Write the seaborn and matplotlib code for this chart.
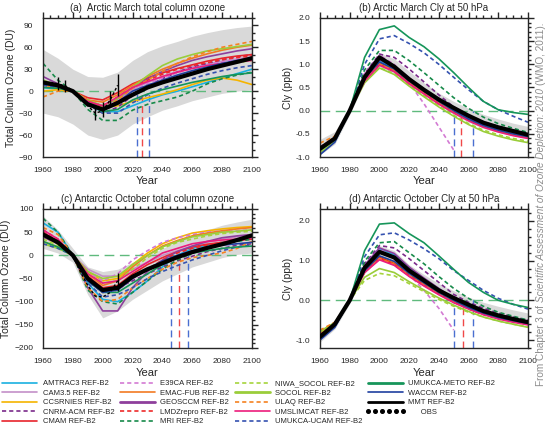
import numpy as np
import pandas as pd
import matplotlib
matplotlib.use('Agg')
import matplotlib.pyplot as plt
import seaborn as sns
from matplotlib.lines import Line2D
from matplotlib.ticker import MultipleLocator, FormatStrFormatter

nan = np.nan

# --- data ---
years = [1960, 1970, 1980, 1990, 2000, 2010, 2020, 2030, 2040, 2050, 2060, 2070, 2080, 2090, 2100]

models = ['AMTRAC3', 'CAM3.5', 'CCSRNIES', 'CNRM-ACM', 'CMAM',
          'E39CA', 'EMAC-FUB', 'GEOSCCM', 'LMDZrepro', 'MRI',
          'NIWA_SOCOL', 'SOCOL', 'ULAQ', 'UMSLIMCAT', 'UMUKCA-UCAM',
          'UMUKCA-METO', 'WACCM']

colors = {'AMTRAC3': '#1ab0e0', 'CAM3.5': '#c490c8', 'CCSRNIES': '#f5b400',
          'CNRM-ACM': '#7a2a8a', 'CMAM': '#e8242c', 'E39CA': '#d37ad3',
          'EMAC-FUB': '#f27a22', 'GEOSCCM': '#8e3f9c', 'LMDZrepro': '#ee2a2a',
          'MRI': '#178a4a', 'NIWA_SOCOL': '#a6d43c', 'SOCOL': '#9acd3a',
          'ULAQ': '#f58220', 'UMSLIMCAT': '#ec1c7c', 'UMUKCA-UCAM': '#3552b0',
          'UMUKCA-METO': '#16955a', 'WACCM': '#1f3fa0'}

dashed = ['CNRM-ACM', 'E39CA', 'LMDZrepro', 'MRI', 'NIWA_SOCOL', 'ULAQ', 'UMUKCA-UCAM']

# (a) Arctic March total column ozone (DU)
arctic_o3 = {
    'AMTRAC3':     [5, 3, 0, -18, -28, -28, -20, -12, -5, 0, 6, 12, 18, 24, 30],
    'CAM3.5':      [15, 8, 0, -14, -20, -12, 2, 12, 20, 27, 33, 37, 41, 44, 47],
    'CCSRNIES':    [0, 2, 0, -14, -22, -20, -14, -9, -4, 2, 9, 15, 18, 15, 9],
    'CNRM-ACM':    [10, 7, 0, -18, -30, -22, -6, 7, 17, 26, 33, 38, 43, 47, 50],
    'CMAM':        [12, 7, 0, -9, -12, -2, 10, 18, 25, 31, 36, 41, 45, 48, 50],
    'E39CA':       [12, 8, 0, -16, -22, -14, 0, 10, 18, 25, 31, 36, 40, 43, 45],
    'EMAC-FUB':    [8, 5, 0, -12, -15, -5, 8, 20, 30, 38, 45, 51, 56, 60, 63],
    'GEOSCCM':     [20, 10, 0, -15, -20, -10, 5, 17, 27, 35, 42, 47, 51, 55, 58],
    'LMDZrepro':   [10, 6, 0, -14, -20, -8, 5, 15, 23, 30, 35, 39, 43, 46, 48],
    'MRI':         [38, 15, 0, -25, -40, -40, -26, -18, -13, -8, 0, 10, 17, 22, 26],
    'NIWA_SOCOL':  [10, 6, 0, -16, -25, -18, -5, 4, 12, 19, 25, 30, 35, 39, 42],
    'SOCOL':       [15, 8, 0, -12, -20, -10, 5, 21, 35, 44, 50, 55, 58, 61, 64],
    'ULAQ':        [-8, 0, 0, -12, -25, -12, 4, 15, 27, 38, 47, 54, 60, 64, 68],
    'UMSLIMCAT':   [12, 7, 0, -14, -20, -8, 5, 13, 20, 26, 31, 35, 38, 40, 42],
    'UMUKCA-UCAM': [8, 5, 0, -18, -30, -30, -16, -5, 4, 11, 17, 23, 28, 32, 35],
    'UMUKCA-METO': [5, 4, 0, -18, -28, -25, -12, -4, 2, 7, 12, 16, 20, 23, 25],
    'WACCM':       [10, 6, 0, -16, -25, -15, 0, 8, 15, 22, 28, 33, 38, 42, 45],
}
arctic_o3_mmt = [12, 8, 0, -18, -25, -16, -5, 5, 12, 18, 24, 30, 35, 40, 45]
arctic_o3_lo = [-30, -35, -45, -60, -66, -60, -45, -35, -26, -20, -13, -8, -3, 0, 2]
arctic_o3_hi = [57, 45, 30, 20, 19, 26, 42, 54, 62, 68, 75, 80, 84, 87, 89]
arctic_obs_years = [1965, 1970, 1975, 1980, 1985, 1990, 1995, 2000, 2005, 2010]
arctic_obs = [12, 10, 7, 0, -8, -20, -30, -27, -12, 8]
arctic_err_years = [1970, 1975, 1995, 2000, 2005, 2010]
arctic_err_vals = [10, 7, -30, -25, -10, 8]
arctic_err_size = [9, 8, 10, 10, 10, 15]
arctic_o3_ret = [2023, 2026, 2031]

# (b) Arctic March Cly at 50 hPa (ppb)
arctic_cly = {
    'AMTRAC3':     [-0.90, -0.65, 0.0, 0.70, 1.08, 0.92, 0.66, 0.43, 0.20, 0.00, -0.18, -0.32, -0.42, -0.50, -0.57],
    'CAM3.5':      [-0.85, -0.62, 0.0, 0.65, 1.00, 0.85, 0.60, 0.38, 0.15, -0.03, -0.20, -0.34, -0.44, -0.52, -0.58],
    'CCSRNIES':    [-0.80, -0.60, 0.0, 0.66, 1.00, 0.86, 0.60, 0.38, 0.16, -0.02, -0.18, -0.32, -0.42, -0.50, -0.56],
    'CNRM-ACM':    [-0.85, -0.62, 0.0, 0.80, 1.22, 1.15, 0.90, 0.62, 0.34, 0.08, -0.10, -0.24, -0.34, -0.42, -0.50],
    'CMAM':        [-0.82, -0.60, 0.0, 0.68, 1.02, 0.88, 0.62, 0.40, 0.18, -0.02, -0.20, -0.33, -0.43, -0.51, -0.57],
    'E39CA':       [-0.78, -0.58, 0.0, 0.80, 1.20, 1.00, 0.60, 0.15, -0.35, -0.85, nan, nan, nan, nan, nan],
    'EMAC-FUB':    [-0.80, -0.58, 0.0, 0.68, 1.02, 0.88, 0.62, 0.40, 0.18, -0.02, -0.20, -0.34, -0.44, -0.52, -0.58],
    'GEOSCCM':     [-0.85, -0.62, 0.0, 0.72, 1.10, 0.96, 0.70, 0.46, 0.23, 0.03, -0.15, -0.30, -0.40, -0.48, -0.54],
    'LMDZrepro':   [-0.80, -0.58, 0.0, 0.66, 1.00, 0.85, 0.60, 0.38, 0.16, -0.04, -0.20, -0.33, -0.43, -0.50, -0.56],
    'MRI':         [-0.88, -0.64, 0.0, 0.88, 1.30, 1.30, 1.08, 0.82, 0.55, 0.28, 0.05, -0.14, -0.28, -0.38, -0.47],
    'NIWA_SOCOL':  [-0.90, -0.66, 0.0, 0.62, 0.93, 0.80, 0.55, 0.32, 0.10, -0.10, -0.28, -0.42, -0.52, -0.60, -0.66],
    'SOCOL':       [-0.90, -0.66, 0.0, 0.60, 0.92, 0.78, 0.53, 0.30, 0.08, -0.12, -0.30, -0.45, -0.55, -0.63, -0.69],
    'ULAQ':        [-0.70, -0.55, 0.0, 0.68, 1.02, 0.88, 0.62, 0.40, 0.18, -0.02, -0.20, -0.33, -0.43, -0.50, -0.55],
    'UMSLIMCAT':   [-0.82, -0.60, 0.0, 0.64, 0.98, 0.84, 0.58, 0.36, 0.14, -0.05, -0.22, -0.36, -0.46, -0.54, -0.60],
    'UMUKCA-UCAM': [-0.85, -0.62, 0.0, 1.00, 1.55, 1.62, 1.45, 1.25, 1.00, 0.72, 0.45, 0.20, 0.02, -0.12, -0.25],
    'UMUKCA-METO': [-0.85, -0.62, 0.0, 1.15, 1.75, 1.83, 1.58, 1.38, 1.12, 0.82, 0.50, 0.20, 0.02, -0.04, -0.08],
    'WACCM':       [-0.95, -0.68, 0.0, 0.70, 1.05, 0.90, 0.64, 0.42, 0.20, 0.00, -0.18, -0.32, -0.42, -0.50, -0.56],
}
arctic_cly_mmt = [-0.82, -0.60, 0.0, 0.72, 1.15, 0.95, 0.68, 0.45, 0.24, 0.06, -0.11, -0.26, -0.36, -0.44, -0.52]
arctic_cly_lo = [-0.95, -0.72, -0.08, 0.60, 0.95, 0.80, 0.55, 0.33, 0.12, -0.08, -0.25, -0.38, -0.47, -0.54, -0.60]
arctic_cly_hi = [-0.62, -0.45, 0.08, 0.85, 1.25, 1.12, 0.85, 0.60, 0.38, 0.20, 0.05, -0.08, -0.18, -0.27, -0.34]
arctic_cly_ret = [2050, 2055, 2063]

# (c) Antarctic October total column ozone (DU)
antarctic_o3 = {
    'AMTRAC3':     [70, 50, 0, -60, -95, -100, -80, -55, -25, 0, 15, 22, 28, 33, 38],
    'CAM3.5':      [45, 28, 0, -30, -45, -45, -30, -15, 0, 10, 20, 28, 35, 40, 42],
    'CCSRNIES':    [30, 18, 0, -35, -55, -50, -20, 5, 25, 38, 48, 53, 57, 60, 62],
    'CNRM-ACM':    [50, 30, 0, -50, -75, -70, -55, -40, -25, -12, -2, 8, 15, 22, 25],
    'CMAM':        [50, 30, 0, -45, -70, -65, -40, -20, -5, 8, 18, 24, 28, 32, 35],
    'E39CA':       [45, 28, 0, -35, -55, -40, -10, 10, 28, 38, 45, 50, 52, 53, 55],
    'EMAC-FUB':    [40, 25, 0, -40, -65, -55, -25, 0, 20, 32, 42, 48, 53, 57, 60],
    'GEOSCCM':     [40, 25, 0, -70, -120, -120, -70, -35, -10, 8, 20, 30, 38, 42, 45],
    'LMDZrepro':   [55, 35, 0, -55, -80, -75, -50, -30, -10, 5, 15, 22, 28, 33, 38],
    'MRI':         [80, 50, 0, -75, -100, -105, -80, -55, -30, -10, 5, 15, 25, 30, 35],
    'NIWA_SOCOL':  [35, 22, 0, -40, -60, -55, -30, -5, 15, 28, 35, 42, 47, 50, 52],
    'SOCOL':       [25, 15, 0, -35, -50, -45, -20, 0, 18, 30, 40, 45, 50, 52, 55],
    'ULAQ':        [60, 45, 0, -70, -100, -95, -70, -50, -30, -15, -5, 0, 5, 15, 30],
    'UMSLIMCAT':   [55, 35, 0, -40, -60, -55, -35, -15, 5, 15, 25, 30, 33, 35, 38],
    'UMUKCA-UCAM': [25, 15, 0, -60, -90, -85, -70, -50, -35, -22, -10, 0, 10, 18, 22],
    'UMUKCA-METO': [30, 18, 0, -55, -80, -80, -60, -40, -20, -5, 5, 10, 15, 18, 20],
    'WACCM':       [45, 28, 0, -55, -80, -75, -50, -30, -12, 0, 10, 18, 22, 25, 28],
}
antarctic_o3_mmt = [45, 28, 0, -50, -75, -70, -46, -30, -17, -4, 7, 16, 24, 33, 43]
antarctic_o3_lo = [15, 5, -15, -85, -135, -120, -95, -75, -55, -40, -25, -15, -5, 2, 5]
antarctic_o3_hi = [85, 55, 15, -25, -35, -30, -15, 0, 15, 30, 45, 55, 65, 72, 78]
antarctic_obs_years = [1965, 1970, 1975, 1980, 1985, 1990, 1995, 2000, 2005, 2010]
antarctic_obs = [35, 25, 12, 0, -35, -65, -88, -90, -80, -55]
antarctic_err_years = [2010]
antarctic_err_vals = [-58]
antarctic_err_size = [20]
antarctic_o3_ret = [2046, 2051, 2057]

# (d) Antarctic October Cly at 50 hPa (ppb)
antarctic_cly = {
    'AMTRAC3':     [-0.85, -0.60, 0.0, 0.85, 1.30, 1.15, 0.80, 0.52, 0.25, 0.02, -0.15, -0.30, -0.40, -0.48, -0.55],
    'CAM3.5':      [-0.90, -0.62, 0.0, 0.75, 1.10, 0.95, 0.65, 0.40, 0.18, -0.02, -0.18, -0.32, -0.43, -0.52, -0.58],
    'CCSRNIES':    [-0.80, -0.58, 0.0, 0.75, 1.10, 0.95, 0.66, 0.42, 0.20, 0.00, -0.17, -0.30, -0.42, -0.50, -0.57],
    'CNRM-ACM':    [-0.92, -0.64, 0.0, 0.92, 1.38, 1.32, 1.05, 0.75, 0.45, 0.15, -0.05, -0.20, -0.32, -0.42, -0.50],
    'CMAM':        [-0.88, -0.60, 0.0, 0.72, 1.08, 0.92, 0.64, 0.40, 0.18, -0.02, -0.20, -0.34, -0.45, -0.53, -0.60],
    'E39CA':       [-0.80, -0.58, 0.0, 0.88, 1.30, 1.05, 0.65, 0.25, -0.20, -0.75, nan, nan, nan, nan, nan],
    'EMAC-FUB':    [-0.82, -0.60, 0.0, 0.72, 1.05, 0.90, 0.62, 0.38, 0.16, -0.04, -0.20, -0.34, -0.45, -0.53, -0.60],
    'GEOSCCM':     [-0.95, -0.65, 0.0, 0.88, 1.32, 1.18, 0.84, 0.56, 0.30, 0.05, -0.12, -0.26, -0.38, -0.46, -0.53],
    'LMDZrepro':   [-0.85, -0.60, 0.0, 0.72, 1.05, 0.90, 0.62, 0.38, 0.16, -0.04, -0.22, -0.36, -0.46, -0.54, -0.60],
    'MRI':         [-0.95, -0.66, 0.0, 0.98, 1.45, 1.48, 1.20, 0.92, 0.60, 0.30, 0.05, -0.15, -0.30, -0.40, -0.50],
    'NIWA_SOCOL':  [-0.80, -0.58, 0.0, 0.50, 0.68, 0.62, 0.42, 0.22, 0.02, -0.15, -0.30, -0.42, -0.52, -0.60, -0.67],
    'SOCOL':       [-0.78, -0.56, 0.0, 0.58, 0.80, 0.70, 0.47, 0.26, 0.06, -0.12, -0.28, -0.42, -0.52, -0.60, -0.68],
    'ULAQ':        [-0.75, -0.55, 0.0, 0.70, 1.05, 0.90, 0.62, 0.38, 0.16, -0.04, -0.20, -0.33, -0.44, -0.52, -0.58],
    'UMSLIMCAT':   [-0.90, -0.62, 0.0, 0.70, 1.02, 0.88, 0.60, 0.36, 0.14, -0.06, -0.22, -0.36, -0.47, -0.55, -0.62],
    'UMUKCA-UCAM': [-0.92, -0.64, 0.0, 1.10, 1.65, 1.70, 1.52, 1.30, 1.05, 0.75, 0.50, 0.25, 0.05, -0.10, -0.22],
    'UMUKCA-METO': [-0.92, -0.64, 0.0, 1.25, 1.92, 1.95, 1.68, 1.45, 1.12, 0.78, 0.45, 0.20, 0.00, -0.10, -0.18],
    'WACCM':       [-1.00, -0.68, 0.0, 0.75, 1.12, 0.98, 0.68, 0.44, 0.20, 0.00, -0.18, -0.32, -0.43, -0.51, -0.58],
}
antarctic_cly_mmt = [-0.92, -0.60, 0.0, 0.82, 1.22, 1.08, 0.75, 0.50, 0.25, 0.06, -0.11, -0.27, -0.38, -0.47, -0.55]
antarctic_cly_lo = [-1.05, -0.72, -0.08, 0.68, 1.05, 0.92, 0.62, 0.38, 0.15, -0.05, -0.22, -0.36, -0.46, -0.55, -0.62]
antarctic_cly_hi = [-0.75, -0.50, 0.08, 0.95, 1.38, 1.25, 0.90, 0.65, 0.42, 0.24, 0.08, -0.05, -0.15, -0.24, -0.32]
antarctic_cly_ret = [2050, 2056, 2063]

# --- style ---
sns.set_style('white')
plt.rcParams['font.family'] = ['Liberation Sans', 'DejaVu Sans']
plt.rcParams['axes.linewidth'] = 1.0

dash_map = {m: ((2.5, 1.8) if m in dashed else '') for m in models}


def draw_panel(ax, data, mmt, lo, hi, ret, ylim, ymajor, yminor, title, ylabel,
               obs=None):
    ax.fill_between(years, lo, hi, color='#d9d9d9', lw=0, zorder=0)
    ax.axhline(0, color='#5fba7d', lw=1.0, dashes=(7, 4), zorder=1)
    for x, c in zip(ret, ['#4a6fd0', '#f04848', '#4a6fd0']):
        ax.vlines(x, ylim[0], 0, colors=c, lw=1.0, linestyles=(0, (5, 3)), zorder=1)

    rows = [(m, y, v) for m in models for y, v in zip(years, data[m])]
    df = pd.DataFrame(rows, columns=['model', 'year', 'value']).dropna()
    sns.lineplot(data=df, x='year', y='value', hue='model', style='model',
                 hue_order=models, style_order=models, palette=colors,
                 dashes=dash_map, lw=1.2, legend=False, ax=ax, zorder=2)
    sns.lineplot(x=years, y=mmt, color='black', lw=3.0, ax=ax, zorder=3)

    if obs is not None:
        oy, ov, ey, ev, es = obs
        ax.plot(oy, ov, color='black', lw=1.0, ls=(0, (2, 1.5)), zorder=4)
        ax.errorbar(ey, ev, yerr=es, fmt='none', ecolor='black', elinewidth=1.0,
                    capsize=0, zorder=4)

    ax.set_xlim(1960, 2100)
    ax.set_ylim(*ylim)
    ax.xaxis.set_major_locator(MultipleLocator(20))
    ax.xaxis.set_minor_locator(MultipleLocator(5))
    ax.yaxis.set_major_locator(MultipleLocator(ymajor))
    ax.yaxis.set_minor_locator(MultipleLocator(yminor))
    ax.tick_params(which='both', direction='out', top=True, right=True,
                   labelsize=6, width=1.0, pad=3)
    ax.tick_params(which='major', length=4)
    ax.tick_params(which='minor', length=2)
    ax.set_title(title, fontsize=7, pad=5)
    ax.set_xlabel('Year', fontsize=8, labelpad=2)
    ax.set_ylabel(ylabel, fontsize=7.5, labelpad=2)


fig = plt.figure(figsize=(5.5, 4.25), dpi=100)
W, H = 550.0, 425.0
ax_a = fig.add_axes([43 / W, 1 - 157 / H, 209 / W, 139 / H])
ax_b = fig.add_axes([320 / W, 1 - 157 / H, 208 / W, 139 / H])
ax_c = fig.add_axes([43 / W, 1 - 348 / H, 209 / W, 139 / H])
ax_d = fig.add_axes([320 / W, 1 - 348 / H, 208 / W, 139 / H])

draw_panel(ax_a, arctic_o3, arctic_o3_mmt, arctic_o3_lo, arctic_o3_hi, arctic_o3_ret,
           (-90, 100), 30, 10, '(a)  Arctic March total column ozone', 'Total Column Ozone (DU)',
           obs=(arctic_obs_years, arctic_obs, arctic_err_years, arctic_err_vals, arctic_err_size))
ax_a.set_yticks([-90, -60, -30, 0, 30, 60, 90])
draw_panel(ax_b, arctic_cly, arctic_cly_mmt, arctic_cly_lo, arctic_cly_hi, arctic_cly_ret,
           (-1.0, 2.0), 0.5, 0.1, '(b) Arctic March Cly at 50 hPa', 'Cly (ppb)')
ax_b.yaxis.set_major_formatter(FormatStrFormatter('%.1f'))
draw_panel(ax_c, antarctic_o3, antarctic_o3_mmt, antarctic_o3_lo, antarctic_o3_hi, antarctic_o3_ret,
           (-200, 100), 50, 10, '(c) Antarctic October total column ozone', 'Total Column Ozone (DU)',
           obs=(antarctic_obs_years, antarctic_obs, antarctic_err_years, antarctic_err_vals, antarctic_err_size))
draw_panel(ax_d, antarctic_cly, antarctic_cly_mmt, antarctic_cly_lo, antarctic_cly_hi, antarctic_cly_ret,
           (-1.2, 2.3), 1.0, 0.2, '(d) Antarctic October Cly at 50 hPa', 'Cly (ppb)')
ax_d.yaxis.set_major_formatter(FormatStrFormatter('%.1f'))

# --- legend ---
handles = []
labels = []
for m in models:
    ls = (0, (2.5, 1.8)) if m in dashed else '-'
    lw = 2.0 if m in ['GEOSCCM', 'SOCOL', 'UMUKCA-METO'] else 1.2
    handles.append(Line2D([], [], color=colors[m], lw=lw, ls=ls))
    labels.append(m + ' REF-B2')
handles.append(Line2D([], [], color='black', lw=2.0))
labels.append('MMT REF-B2')
handles.append(Line2D([], [], color='black', ls='none', marker='o', markersize=2.6))
labels.append('      OBS')
fig.legend(handles, labels, ncol=4, loc='upper left', bbox_to_anchor=(0.0, 1 - 380 / H),
           frameon=False, fontsize=5.5, handlelength=5.2, handletextpad=0.4,
           columnspacing=0.4, labelspacing=0.28, borderpad=0, borderaxespad=0,
           numpoints=6)

# --- rotated source note on the right ---
fig.canvas.draw()
rend = fig.canvas.get_renderer()
ypos = 1 - 386 / H
pieces = [('From Chapter 3 of', 'normal'),
          ('Scientific Assessment of Ozone Depletion: 2010', 'italic'),
          ('(WMO, 2011).', 'normal')]
for txt, st in pieces:
    t = fig.text(541 / W, ypos, txt, rotation=90, rotation_mode='anchor', ha='left',
                 va='center', fontsize=7.2, color='#8c8c8c', style=st)
    bb = t.get_window_extent(rend)
    ypos += (bb.height + 2.8) / H

fig.savefig('out.png', dpi=100)
